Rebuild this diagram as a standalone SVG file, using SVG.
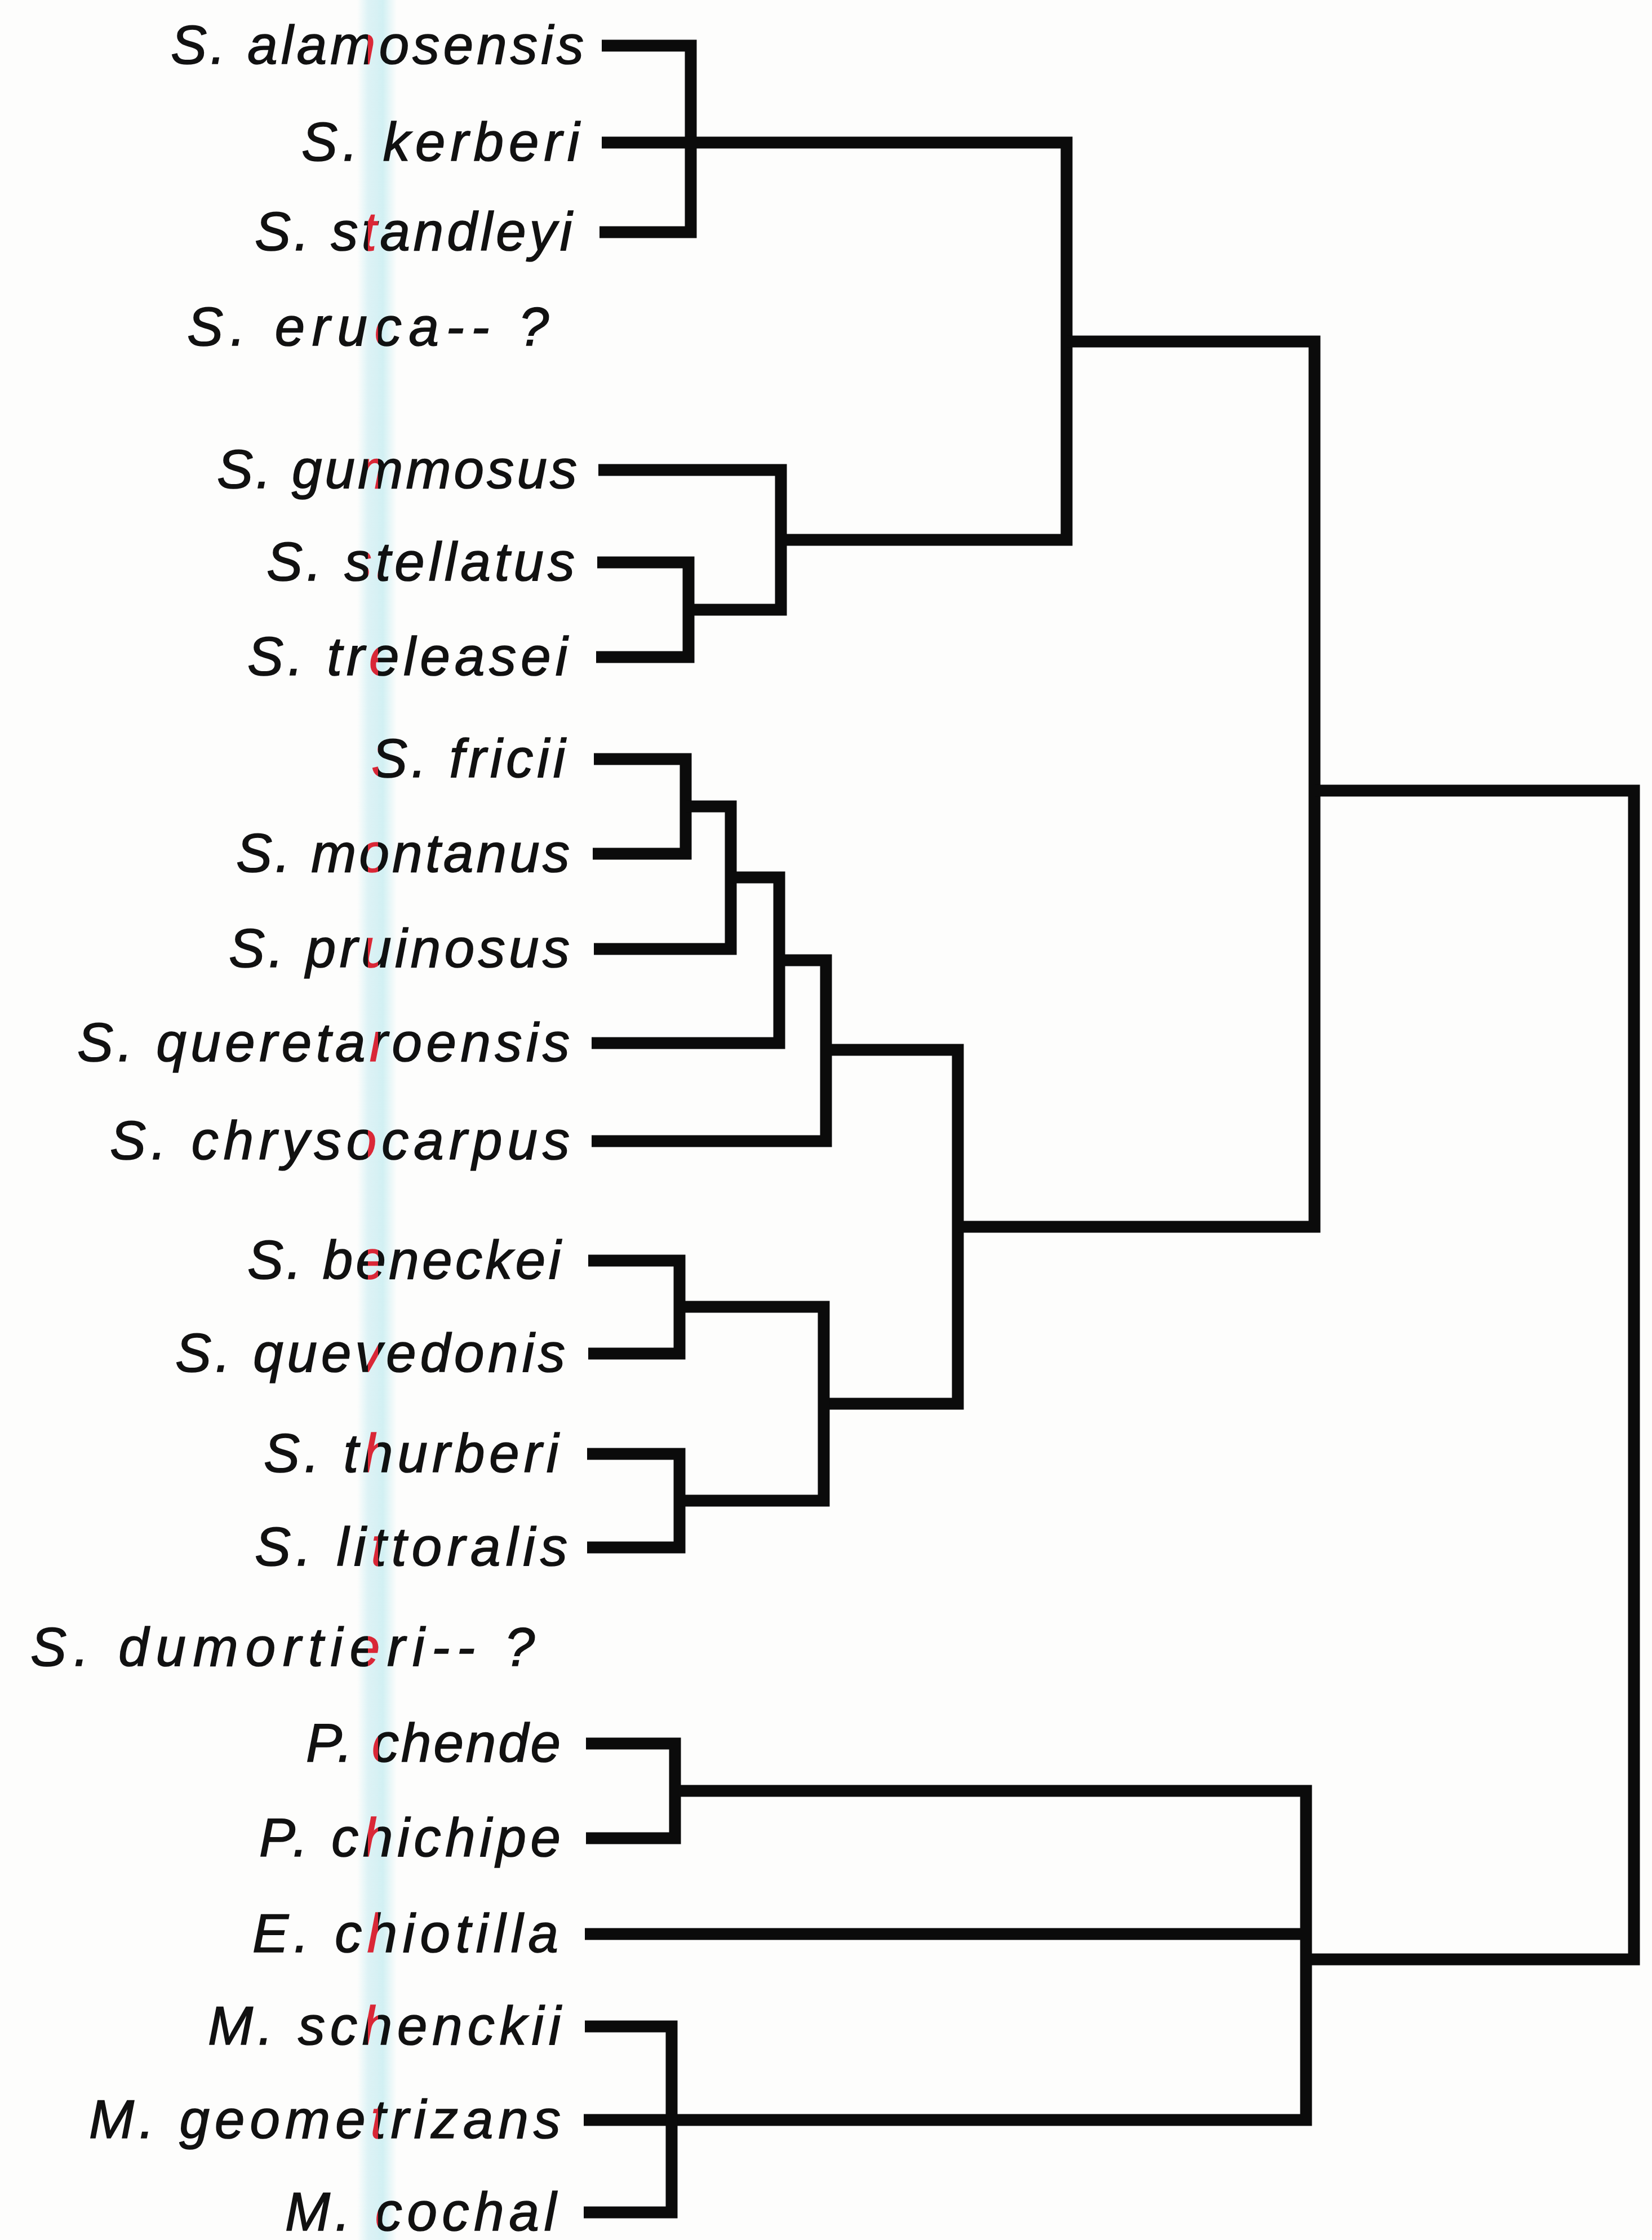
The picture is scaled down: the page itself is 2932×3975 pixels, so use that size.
<svg xmlns="http://www.w3.org/2000/svg" width="2932" height="3975" viewBox="0 0 2932 3975">
  <style>
    .lbl { font-family: "Liberation Sans", Arial, sans-serif; font-style: italic; font-size: 96px; fill: #111; stroke: #111; stroke-width: 1.6px; text-anchor: end; }
    .ln { fill: none; stroke: #0b0b0b; stroke-width: 21; stroke-linejoin: miter; stroke-linecap: butt; }
  </style>
  <defs>
    <linearGradient id="bandGrad" x1="0" y1="0" x2="1" y2="0">
      <stop offset="0" stop-color="#ffffff"/>
      <stop offset="0.3" stop-color="#dcf4f8"/>
      <stop offset="0.65" stop-color="#d4f2f6"/>
      <stop offset="1" stop-color="#ffffff"/>
    </linearGradient>
  </defs>

  <rect id="paper" x="0" y="0" width="2932" height="3975" fill="#fdfdfc"/>

  <!-- taxon labels -->
  <g id="taxa">
    <g id="t-alamosensis"><text class="lbl" x="1036" y="113" textLength="733" lengthAdjust="spacing">S. alamosensis</text></g>
    <g id="t-kerberi"><text class="lbl" x="1028" y="285" textLength="493" lengthAdjust="spacing">S. kerberi</text></g>
    <g id="t-standleyi"><text class="lbl" x="1015" y="444" textLength="563" lengthAdjust="spacing">S. standleyi</text></g>
    <g id="t-eruca"><text class="lbl" x="974" y="613" textLength="642" lengthAdjust="spacing">S. eruca-- ?</text></g>
    <g id="t-gummosus"><text class="lbl" x="1024" y="866" textLength="639" lengthAdjust="spacing">S. gummosus</text></g>
    <g id="t-stellatus"><text class="lbl" x="1020" y="1030" textLength="547" lengthAdjust="spacing">S. stellatus</text></g>
    <g id="t-treleasei"><text class="lbl" x="1007" y="1198" textLength="568" lengthAdjust="spacing">S. treleasei</text></g>
    <g id="t-fricii"><text class="lbl" x="1003" y="1379" textLength="344" lengthAdjust="spacing">S. fricii</text></g>
    <g id="t-montanus"><text class="lbl" x="1011" y="1547" textLength="592" lengthAdjust="spacing">S. montanus</text></g>
    <g id="t-pruinosus"><text class="lbl" x="1011" y="1716" textLength="605" lengthAdjust="spacing">S. pruinosus</text></g>
    <g id="t-queretaroensis"><text class="lbl" x="1011" y="1883" textLength="874" lengthAdjust="spacing">S. queretaroensis</text></g>
    <g id="t-chrysocarpus"><text class="lbl" x="1011" y="2057" textLength="816" lengthAdjust="spacing">S. chrysocarpus</text></g>
    <g id="t-beneckei"><text class="lbl" x="995" y="2269" textLength="556" lengthAdjust="spacing">S. beneckei</text></g>
    <g id="t-quevedonis"><text class="lbl" x="1003" y="2434" textLength="692" lengthAdjust="spacing">S. quevedonis</text></g>
    <g id="t-thurberi"><text class="lbl" x="991" y="2612" textLength="523" lengthAdjust="spacing">S. thurberi</text></g>
    <g id="t-littoralis"><text class="lbl" x="1007" y="2778" textLength="555" lengthAdjust="spacing">S. littoralis</text></g>
    <g id="t-dumortieri"><text class="lbl" x="949" y="2956" textLength="895" lengthAdjust="spacing">S. dumortieri-- ?</text></g>
    <g id="t-chende"><text class="lbl" x="995" y="3126" textLength="452" lengthAdjust="spacing">P. chende</text></g>
    <g id="t-chichipe"><text class="lbl" x="995" y="3294" textLength="535" lengthAdjust="spacing">P. chichipe</text></g>
    <g id="t-chiotilla"><text class="lbl" x="991" y="3464" textLength="543" lengthAdjust="spacing">E. chiotilla</text></g>
    <g id="t-schenckii"><text class="lbl" x="995" y="3628" textLength="626" lengthAdjust="spacing">M. schenckii</text></g>
    <g id="t-geometrizans"><text class="lbl" x="995" y="3794" textLength="837" lengthAdjust="spacing">M. geometrizans</text></g>
    <g id="t-cochal"><text class="lbl" x="987" y="3958" textLength="481" lengthAdjust="spacing">M. cochal</text></g>
  </g>

  <!-- dendrogram branches -->
  <g id="connectors" class="ln">
    <!-- alamosensis / kerberi / standleyi -->
    <path d="M1068,81 H1226 V412 H1064"/>
    <!-- gummosus, stellatus, treleasei -->
    <path d="M1060,998 H1222 V1166 H1058"/>
    <path d="M1222,1082 H1386 V834 H1062"/>
    <path d="M1386,958 H1893 V253 H1068"/>
    <!-- fricii ... chrysocarpus staircase -->
    <path d="M1054,1347 H1217 V1515 H1052"/>
    <path d="M1217,1431 H1297 V1684 H1054"/>
    <path d="M1297,1557 H1383 V1851 H1050"/>
    <path d="M1383,1704 H1466 V2025 H1050"/>
    <path d="M1466,1863 H1700 V2491 H1462"/>
    <!-- beneckei, quevedonis, thurberi, littoralis -->
    <path d="M1044,2237 H1206 V2402 H1044"/>
    <path d="M1042,2580 H1206 V2746 H1042"/>
    <path d="M1206,2319 H1462 V2663 H1206"/>
    <!-- Stenocereus clade -->
    <path d="M1893,606 H2333 V2177 H1700"/>
    <!-- root -->
    <path d="M2333,1403 H2900 V3477 H2318"/>
    <!-- outgroups -->
    <path d="M1040,3094 H1198 V3262 H1040"/>
    <path d="M1198,3178 H2318 V3762 H1036"/>
    <path d="M1038,3432 H2318"/>
    <path d="M1038,3596 H1192 V3926 H1036"/>
  </g>

  <!-- scanner fringe: red tint on ink inside the cyan stripe -->
  <rect x="653" y="0" width="18" height="3975" fill="#ff1a2a" style="mix-blend-mode: screen"/>
  <rect x="634" y="0" width="70" height="3975" fill="url(#bandGrad)" style="mix-blend-mode: multiply"/>
</svg>
